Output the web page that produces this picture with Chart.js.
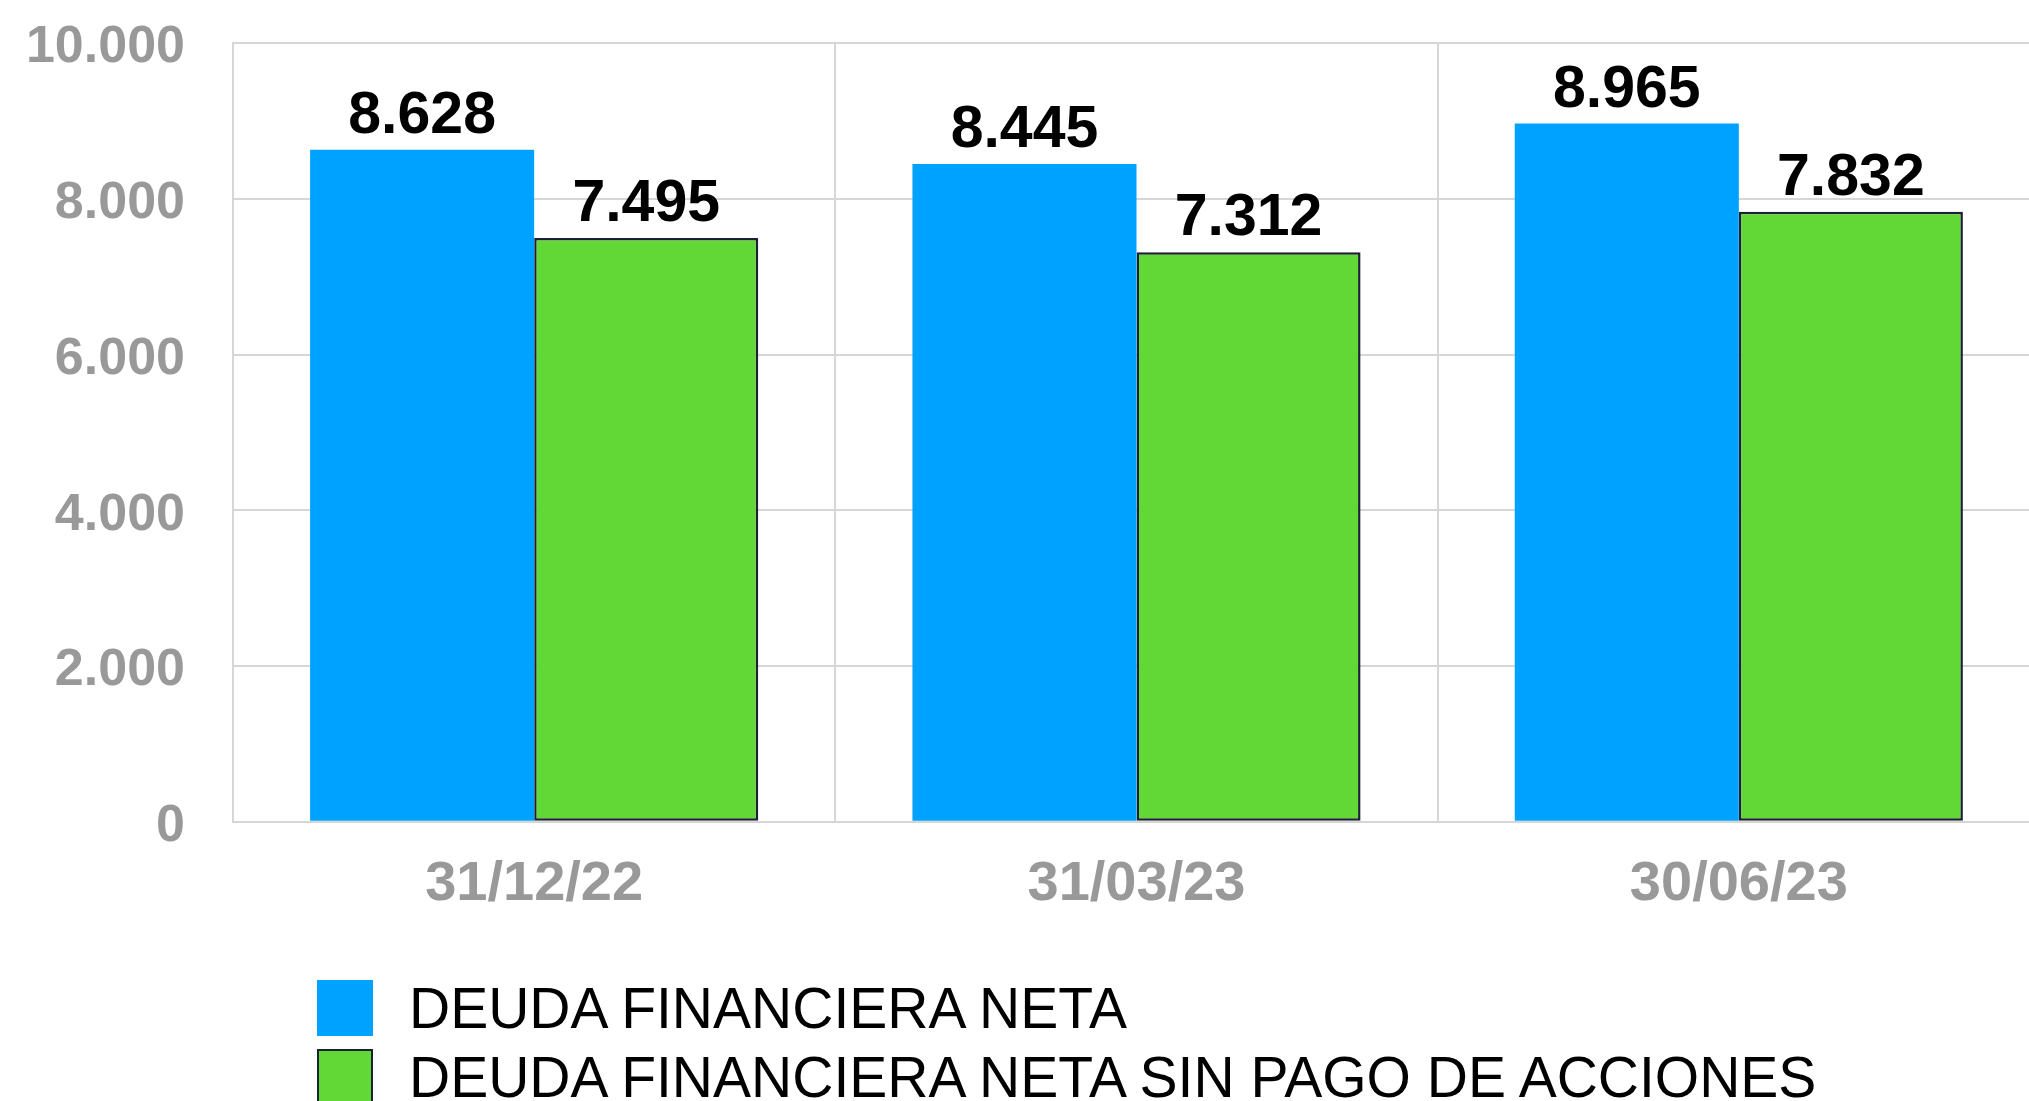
<!DOCTYPE html>
<html lang="es">
<head>
<meta charset="utf-8">
<title>Deuda financiera neta</title>
<script src="https://cdn.jsdelivr.net/npm/chart.js@4.4.0/dist/chart.umd.min.js"></script>
<style>
  html, body { margin: 0; padding: 0; background: #fff; overflow: hidden; }
  #page { position: relative; width: 2029px; height: 1101px; overflow: hidden; }
  #chart-wrap { position: absolute; left: 0; top: 0; width: 2040px; height: 947px; }
  #legend { position: absolute; left: 317px; top: 980px; font-family: "Liberation Sans", Arial, sans-serif; font-size: 57px; color: #000; }
  .legend-item { display: flex; align-items: center; height: 56px; margin-bottom: 13px; white-space: nowrap; }
  .legend-box { width: 56px; height: 56px; box-sizing: border-box; margin-right: 36px; flex: none; }
  .legend-item span { line-height: 56px; }
</style>
</head>
<body>
<div id="page">
  <div id="chart-wrap"><canvas id="debt-chart"></canvas></div>
  <div id="legend"></div>
</div>
<script>
const categories = ["31/12/22", "31/03/23", "30/06/23"];
const seriesLabels = ["DEUDA FINANCIERA NETA", "DEUDA FINANCIERA NETA SIN PAGO DE ACCIONES"];
const netDebt = [8628, 8445, 8965];
const netDebtNoBuyback = [7495, 7312, 7832];
const yTicks = [0, 2000, 4000, 6000, 8000, 10000];

const FONT = '"Liberation Sans", Arial, sans-serif';
const GRID = "#d6d6d6";

function formatThousands(value) {
  return String(Math.round(value)).replace(/\B(?=(\d{3})+(?!\d))/g, ".");
}

// etiquetas de valor encima de cada barra
const valueLabels = {
  id: "valueLabels",
  afterDatasetsDraw(chart) {
    const ctx = chart.ctx;
    ctx.save();
    ctx.font = `bold 59px ${FONT}`;
    ctx.fillStyle = "#000";
    ctx.textAlign = "center";
    ctx.textBaseline = "alphabetic";
    chart.data.datasets.forEach((dataset, i) => {
      chart.getDatasetMeta(i).data.forEach((bar, j) => {
        ctx.fillText(formatThousands(dataset.data[j]), bar.x, bar.y - 17);
      });
    });
    ctx.restore();
  },
};

const chart = new Chart(document.querySelector("#debt-chart"), {
  type: "bar",
  data: {
    labels: categories,
    datasets: [
      {
        label: seriesLabels[0],
        data: netDebt,
        backgroundColor: "#00A2FF",
        borderWidth: 0,
      },
      {
        label: seriesLabels[1],
        data: netDebtNoBuyback,
        backgroundColor: "#62D836",
        borderColor: "#1C2033",
        borderWidth: 2.5,
        borderSkipped: false,
      },
    ],
  },
  options: {
    responsive: true,
    maintainAspectRatio: false,
    animation: false,
    categoryPercentage: 0.744,
    barPercentage: 1,
    layout: { padding: { top: 43, left: 26, right: 0, bottom: 0 } },
    plugins: {
      legend: { display: false },
      tooltip: { enabled: false },
    },
    scales: {
      x: {
        grid: { color: GRID, lineWidth: 2, drawTicks: false },
        border: { color: GRID, width: 2 },
        ticks: { color: "#999999", font: { family: FONT, size: 56, weight: "bold" }, padding: 29 },
        afterFit: (axis) => {
          axis.paddingLeft = 0;
          axis.paddingRight = 0;
        },
      },
      y: {
        min: 0,
        max: 10000,
        afterBuildTicks: (axis) => {
          axis.ticks = yTicks.map((value) => ({ value }));
        },
        afterFit: (axis) => {
          axis.width = 207;
          axis.paddingTop = 0;
          axis.paddingBottom = 0;
        },
        grid: { color: GRID, lineWidth: 2, drawTicks: false },
        border: { color: GRID, width: 2 },
        ticks: {
          color: "#999999",
          font: { family: FONT, size: 52, weight: "bold" },
          padding: 48,
          labelOffset: 5,
          callback: (value) => formatThousands(value),
        },
      },
    },
  },
  plugins: [valueLabels],
});

const legend = document.querySelector("#legend");
chart.data.datasets.forEach((dataset) => {
  const item = document.createElement("div");
  item.className = "legend-item";
  const border = dataset.borderWidth ? `border:${dataset.borderWidth}px solid ${dataset.borderColor};` : "";
  item.innerHTML = `<div class="legend-box" style="background:${dataset.backgroundColor};${border}"></div><span>${dataset.label}</span>`;
  legend.appendChild(item);
});
</script>
</body>
</html>
